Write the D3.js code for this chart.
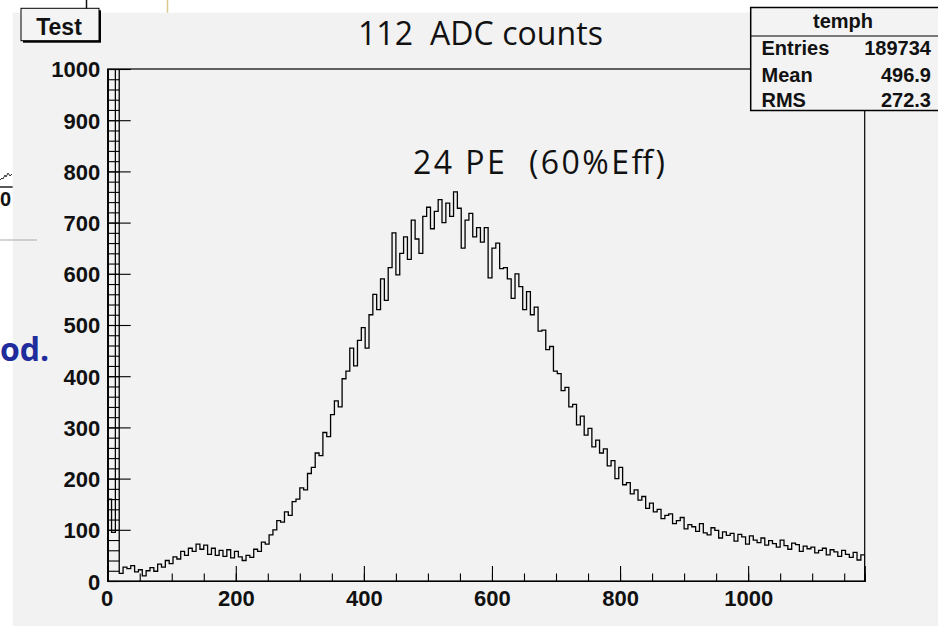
<!DOCTYPE html>
<html><head><meta charset="utf-8">
<script src="https://cdn.jsdelivr.net/npm/d3@7"></script>
<style>body{margin:0;background:#fff;} svg{display:block;}</style>
</head><body>
<script>
// ---------- data ----------
const binWidth = 6;                 // ADC channels per bin
const xDomain = [0, 1182];
const yDomain = [0, 1000];
const counts = [
  160, 95, 1500,
  15, 27, 24, 30, 18, 22, 10, 20, 26, 19,
  33, 27, 40, 34, 47, 43, 58, 50, 64, 58,
  72, 62, 70, 52, 64, 50, 60, 48, 61, 45,
  58, 47, 40, 50, 46, 62, 58, 76, 72, 90,
  100, 118, 115, 135, 128, 155, 160, 182, 178, 210,
  222, 250, 245, 290, 282, 325, 352, 340, 395, 410,
  455, 420, 470, 495, 455, 520, 560, 530, 590, 548,
  612, 680, 598, 640, 672, 628, 705, 668, 640, 712,
  730, 688, 722, 745, 700, 738, 712, 760, 728, 650,
  705, 718, 672, 690, 662, 690, 592, 650, 660, 610,
  612, 590, 552, 600, 575, 530, 565, 520, 535, 488,
  490, 452, 458, 410, 405, 372, 378, 340, 345, 305,
  322, 285, 298, 262, 275, 250, 258, 225, 235, 200,
  222, 188, 192, 170, 178, 158, 165, 142, 152, 135,
  140, 122, 128, 131, 112, 118, 124, 102, 110, 106,
  97, 112, 94, 90, 104, 99, 84, 96, 89, 93,
  78, 91, 86, 72, 88, 80, 75, 84, 70, 79,
  73, 66, 80, 69, 62, 74, 71, 58, 68, 63,
  66, 55, 60, 64, 51, 61, 57, 48, 60, 52,
  46, 56, 41, 51
];
const xMajorTicks = [0, 200, 400, 600, 800, 1000];
const xMinorTicks = d3.range(0, 1151, 50);
const yMajorTicks = [0, 100, 200, 300, 400, 500, 600, 700, 800, 900, 1000];
const yMinorTicks = d3.range(0, 1001, 20);
const statsTitle = "temph";
const statsNames = ["Entries", "Mean", "RMS"];
const statsValues = ["189734", "496.9", "272.3"];
const boxTitle = "Test";
const titleText = "112  ADC counts";
const noteText = "24 PE  (60%Eff)";

// ---------- layout ----------
const W = 938, H = 626;
const F = {l: 107.7, r: 864.7, t: 69, b: 581};
const svg = d3.select("body").append("svg").attr("width", W).attr("height", H);

svg.append("rect").attr("width", W).attr("height", H).attr("fill", "#ffffff");
svg.append("rect").attr("x", 12.7).attr("y", 12.7).attr("width", W - 12.7).attr("height", H - 12.7).attr("fill", "#f2f2f2");

// remnants of neighbouring slide content
svg.append("line").attr("x1", 86.5).attr("x2", 86.5).attr("y1", 0).attr("y2", 9).attr("stroke", "#111").attr("stroke-width", 1.5);
svg.append("line").attr("x1", 167.5).attr("x2", 167.5).attr("y1", 0).attr("y2", 12.7).attr("stroke", "#d9c98e").attr("stroke-width", 1.5);
svg.append("path").attr("d", "M0,180 L2,178 L3,179 L5,175 L6,177 L8,173 L10,176 L12,174").attr("fill", "none").attr("stroke", "#333").attr("stroke-width", 1);
svg.append("line").attr("x1", 0).attr("x2", 12.7).attr("y1", 187).attr("y2", 187).attr("stroke", "#222").attr("stroke-width", 1.5);
svg.append("text").attr("x", 0).attr("y", 206).attr("font-family", "Liberation Sans, Arial, sans-serif").attr("font-weight", "bold").attr("font-size", 20).attr("fill", "#111").text("0");
svg.append("line").attr("x1", 0).attr("x2", 37).attr("y1", 240).attr("y2", 240).attr("stroke", "#aaa").attr("stroke-width", 1.2);
svg.append("text").attr("x", 0).attr("y", 361).attr("font-family", "Comic Sans MS, Open Sans, sans-serif").attr("font-weight", "bold").attr("font-size", 32).attr("fill", "#1f2c9c").text("od.");

// ---------- scales ----------
const x = d3.scaleLinear().domain(xDomain).range([F.l, F.r]);
const y = d3.scaleLinear().domain(yDomain).range([F.b, F.t]);

// frame
svg.append("rect").attr("x", F.l).attr("y", F.t).attr("width", F.r - F.l).attr("height", F.b - F.t)
  .attr("fill", "#f2f2f2").attr("stroke", "#000").attr("stroke-width", 1.2);

// histogram
svg.append("clipPath").attr("id", "fr").append("rect")
  .attr("x", F.l).attr("y", F.t).attr("width", F.r - F.l).attr("height", F.b - F.t);
const pts = counts.map((c, i) => [i * binWidth, c]);
pts.push([counts.length * binWidth, counts[counts.length - 1]]);
const line = d3.line().x(d => x(d[0])).y(d => y(d[1])).curve(d3.curveStepAfter);
svg.append("path").attr("clip-path", "url(#fr)")
  .attr("d", "M" + x(0) + "," + y(0) + line(pts).replace(/^M/, "L") + "L" + x(counts.length * binWidth) + "," + y(0))
  .attr("fill", "none").attr("stroke", "#000").attr("stroke-width", 1.3);

// axes
const axFont = "Liberation Sans, Arial, Helvetica, sans-serif";
const gx = svg.append("g").attr("transform", `translate(0,${F.b})`);
gx.call(d3.axisBottom(x).tickValues(xMinorTicks).tickSize(-7.5).tickFormat(""));
const gxM = svg.append("g").attr("transform", `translate(0,${F.b})`);
gxM.call(d3.axisBottom(x).tickValues(xMajorTicks).tickSize(-15).tickPadding(24).tickFormat(d3.format("d")));
const gy = svg.append("g").attr("transform", `translate(${F.l},0)`);
gy.call(d3.axisLeft(y).tickValues(yMinorTicks).tickSize(-11.5).tickFormat(""));
const gyM = svg.append("g").attr("transform", `translate(${F.l},0)`);
gyM.call(d3.axisLeft(y).tickValues(yMajorTicks).tickSize(-23).tickPadding(30).tickFormat(d3.format("d")));
[gx, gxM, gy, gyM].forEach(g => {
  g.select(".domain").attr("stroke", "#000").attr("stroke-width", 1.2);
  g.selectAll(".tick line").attr("stroke", "#000").attr("stroke-width", 1.1);
  g.selectAll("text").attr("font-family", axFont).attr("font-weight", "bold").attr("font-size", 22).attr("fill", "#111");
});
gxM.selectAll(".tick text").attr("y", 25).attr("dy", 0);
gyM.selectAll(".tick text").attr("x", -7.5).attr("dy", "0.36em");
gxM.selectAll(".tick text").filter(d => d === 0).attr("dx", -1);
gyM.selectAll(".tick text").filter(d => d === 0).attr("dy", "0.4em");

// title box "Test"
svg.append("rect").attr("x", 23).attr("y", 10.3).attr("width", 78).attr("height", 32.4).attr("fill", "#000");
svg.append("rect").attr("x", 21).attr("y", 8.3).attr("width", 78).attr("height", 32.4).attr("fill", "#f4f4f4").attr("stroke", "#000").attr("stroke-width", 1);
svg.append("text").attr("x", 59).attr("y", 34.5).attr("text-anchor", "middle").attr("font-family", axFont).attr("font-weight", "bold").attr("font-size", 23).attr("fill", "#111").text(boxTitle);

// stats box (runs past the right edge, as in the screenshot)
const sb = {x: 750.7, y: 7.5, w: 195, h: 103};
svg.append("rect").attr("x", sb.x).attr("y", sb.y).attr("width", sb.w).attr("height", sb.h).attr("fill", "#f3f3f3").attr("stroke", "#000").attr("stroke-width", 1.5);
svg.append("line").attr("x1", sb.x).attr("x2", sb.x + sb.w).attr("y1", 36).attr("y2", 36).attr("stroke", "#000").attr("stroke-width", 1.2);
svg.append("text").attr("x", 843).attr("y", 28).attr("text-anchor", "middle").attr("font-family", axFont).attr("font-weight", "bold").attr("font-size", 20).attr("fill", "#111").text(statsTitle);
const rowY = [55, 81.5, 106.5];
statsNames.forEach((n, i) => {
  svg.append("text").attr("x", 761.5).attr("y", rowY[i]).attr("font-family", axFont).attr("font-weight", "bold").attr("font-size", 20).attr("fill", "#111").text(n);
  svg.append("text").attr("x", 931).attr("y", rowY[i]).attr("text-anchor", "end").attr("font-family", axFont).attr("font-weight", "bold").attr("font-size", 20).attr("fill", "#111").text(statsValues[i]);
});

// overlay texts
const handFont = "Comic Sans MS, Open Sans, sans-serif";
svg.append("text").attr("x", 480.5).attr("y", 45).attr("text-anchor", "middle").style("white-space", "pre")
  .attr("font-family", handFont).attr("font-size", 32).attr("fill", "#111")
  .attr("textLength", 245).text(titleText);
svg.append("text").attr("x", 539).attr("y", 174).attr("text-anchor", "middle").style("white-space", "pre")
  .attr("font-family", handFont).attr("font-size", 32).attr("fill", "#111")
  .attr("textLength", 252).text(noteText);
</script>
</body></html>
